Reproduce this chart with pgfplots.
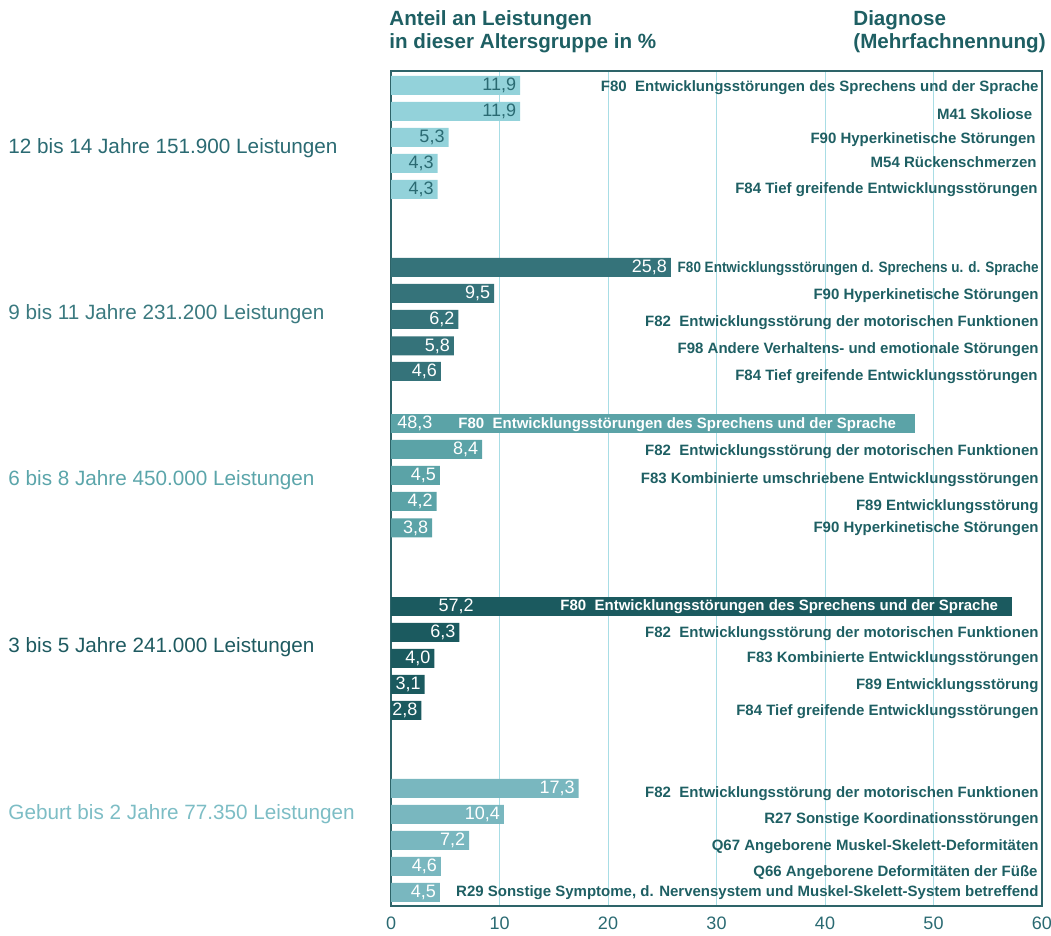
\documentclass[border=0pt]{standalone}
\usepackage{fontspec}
\setmainfont{Liberation Sans}
\usepackage{graphicx}
\usepackage{pgfplots}
\pgfplotsset{compat=1.18}

\definecolor{gA}{HTML}{93D2DA}
\definecolor{gB}{HTML}{35737A}
\definecolor{gC}{HTML}{5BA3A7}
\definecolor{gD}{HTML}{1B5A5F}
\definecolor{gE}{HTML}{79B7BF}
\definecolor{txt}{HTML}{1E5F63}
\definecolor{lblA}{HTML}{2A6A72}
\definecolor{lblB}{HTML}{3B7A80}
\definecolor{lblC}{HTML}{5BA5AA}
\definecolor{lblD}{HTML}{1E5A60}
\definecolor{lblE}{HTML}{7DBDC5}
\definecolor{gridc}{HTML}{A8DDE5}
\definecolor{frame}{HTML}{2E6469}

% 1 px of the reference = 0.5pt
\tikzset{
  diag/.style={font=\bfseries\fontsize{7.5}{9}\selectfont, text=txt, inner sep=0pt, anchor=base east},
  wdiag/.style={font=\bfseries\fontsize{7.5}{9}\selectfont, text=white, inner sep=0pt, anchor=base west},
  grp/.style={font=\fontsize{10.35}{12}\selectfont, inner sep=0pt, anchor=base west},
  head/.style={font=\bfseries\fontsize{10.3}{12}\selectfont, text=txt, inner sep=0pt, anchor=base west},
  val/.style={font=\fontsize{9}{10}\selectfont, inner sep=0pt},
}

\begin{document}
\begin{tikzpicture}
\begin{axis}[
  scale only axis,
  x=5.425pt, y=0.5pt, y dir=reverse,
  xmin=0, xmax=60, ymin=71, ymax=906,
  xbar, bar width=9.5pt, bar shift=0pt,
  axis line style={draw=frame, line width=0.8pt},
  xtick={0,10,...,60}, ytick=\empty,
  xmajorgrids, grid style={draw=gridc, line width=0.5pt},
  major tick length=0pt,
  xticklabel style={font=\fontsize{9}{10}\selectfont, text=lblA, yshift=-2pt},
  /pgf/number format/assume math mode=true,
  clip=false,
  point meta=x,
  nodes near coords={\pgfmathprintnumber[assume math mode=true,use comma,fixed,fixed zerofill,precision=1]{\pgfplotspointmeta}},
  nodes near coords align={anchor=east},
  every node near coord/.append style={val, xshift=-1.8pt},
]
% 12 bis 14 Jahre
\addplot[fill=gA, draw=none, every node near coord/.append style={text=lblA}]
  coordinates {(11.9,85.5) (11.9,111.5) (5.3,137.5) (4.3,163.5) (4.3,189.5)};
% 9 bis 11 Jahre
\addplot[fill=gB, draw=none, every node near coord/.append style={text=white}]
  coordinates {(25.8,267.5) (9.5,293.5) (6.2,319.5) (5.8,346) (4.6,371.5)};
% 6 bis 8 Jahre
\addplot[fill=gC, draw=none, nodes near coords={}]
  coordinates {(48.3,423.5)};
\addplot[fill=gC, draw=none, every node near coord/.append style={text=white}]
  coordinates {(8.4,449.5) (4.5,475.5) (4.2,501.5) (3.8,528)};
% 3 bis 5 Jahre
\addplot[fill=gD, draw=none, nodes near coords={}]
  coordinates {(57.2,606.5)};
\addplot[fill=gD, draw=none, every node near coord/.append style={text=white}]
  coordinates {(6.3,632.5) (4.0,658.5) (3.1,684.5) (2.8,710.5)};
% Geburt bis 2 Jahre
\addplot[fill=gE, draw=none, every node near coord/.append style={text=white}]
  coordinates {(17.3,788.5) (10.4,814.5) (7.2,840.5) (4.6,866.5) (4.5,892.5)};

% values inside the two long bars
\node[val, text=white, anchor=west] at (axis cs:0.55,423.5) {48,3};
\node[val, text=white] at (axis cs:6.0,606.5) {57,2};

% header
\node[head] at (axis cs:-0.18,26) {Anteil an Leistungen};
\node[head] at (axis cs:-0.18,49) {in dieser Altersgruppe in \%};
\node[head] at (axis cs:42.58,26) {Diagnose};
\node[head] at (axis cs:42.58,49) {(Mehrfachnennung)};

% age groups
\node[grp, text=lblA] at (axis cs:-35.3,154) {12 bis 14 Jahre 151.900 Leistungen};
\node[grp, text=lblB] at (axis cs:-35.3,320) {9 bis 11 Jahre 231.200 Leistungen};
\node[grp, text=lblC] at (axis cs:-35.3,485.7) {6 bis 8 Jahre 450.000 Leistungen};
\node[grp, text=lblD] at (axis cs:-35.3,653) {3 bis 5 Jahre 241.000 Leistungen};
\node[grp, text=lblE] at (axis cs:-35.3,820) {Geburt bis 2 Jahre 77.350 Leistungen};

% diagnoses
\node[diag] at (axis cs:59.72,92) {F80~~Entwicklungsstörungen des Sprechens und der Sprache};
\node[diag] at (axis cs:59.13,120) {M41 Skoliose};
\node[diag] at (axis cs:59.45,144) {F90 Hyperkinetische Störungen};
\node[diag] at (axis cs:59.54,167.3) {M54 Rückenschmerzen};
\node[diag] at (axis cs:59.63,193.3) {F84 Tief greifende Entwicklungsstörungen};

\node[diag] at (axis cs:59.72,273) {\scalebox{0.9}[1]{F80 Entwicklungsstörungen d. Sprechens u. d. Sprache}};
\node[diag] at (axis cs:59.72,300) {F90 Hyperkinetische Störungen};
\node[diag] at (axis cs:59.72,327) {F82~~Entwicklungsstörung der motorischen Funktionen};
\node[diag] at (axis cs:59.72,354) {F98 Andere Verhaltens- und emotionale Störungen};
\node[diag] at (axis cs:59.63,381) {F84 Tief greifende Entwicklungsstörungen};

\node[wdiag] at (axis cs:6.18,429) {F80~~Entwicklungsstörungen des Sprechens und der Sprache};
\node[diag] at (axis cs:59.72,456) {F82~~Entwicklungsstörung der motorischen Funktionen};
\node[diag] at (axis cs:59.72,484) {F83 Kombinierte umschriebene Entwicklungsstörungen};
\node[diag] at (axis cs:59.72,510.5) {F89 Entwicklungsstörung};
\node[diag] at (axis cs:59.72,533) {F90 Hyperkinetische Störungen};

\node[wdiag] at (axis cs:15.58,610.5) {F80~~Entwicklungsstörungen des Sprechens und der Sprache};
\node[diag] at (axis cs:59.72,638) {F82~~Entwicklungsstörung der motorischen Funktionen};
\node[diag] at (axis cs:59.72,662.7) {F83 Kombinierte Entwicklungsstörungen};
\node[diag] at (axis cs:59.72,690) {F89 Entwicklungsstörung};
\node[diag] at (axis cs:59.72,715.5) {F84 Tief greifende Entwicklungsstörungen};

\node[diag] at (axis cs:59.72,797.3) {F82~~Entwicklungsstörung der motorischen Funktionen};
\node[diag] at (axis cs:59.72,824) {R27 Sonstige Koordinationsstörungen};
\node[diag] at (axis cs:59.72,850.7) {Q67 Angeborene Muskel-Skelett-Deformitäten};
\node[diag] at (axis cs:59.63,876.7) {Q66 Angeborene Deformitäten der Füße};
\node[diag] at (axis cs:59.72,896.7) {R29 Sonstige Symptome, d. Nervensystem und Muskel-Skelett-System betreffend};

% corners of the page, as in the reference
\coordinate (pageTL) at (axis cs:-36.04,0);
\coordinate (pageBR) at (axis cs:60.83,936);
\end{axis}
\pgfresetboundingbox
\path (pageTL) rectangle (pageBR);
\end{tikzpicture}
\end{document}
